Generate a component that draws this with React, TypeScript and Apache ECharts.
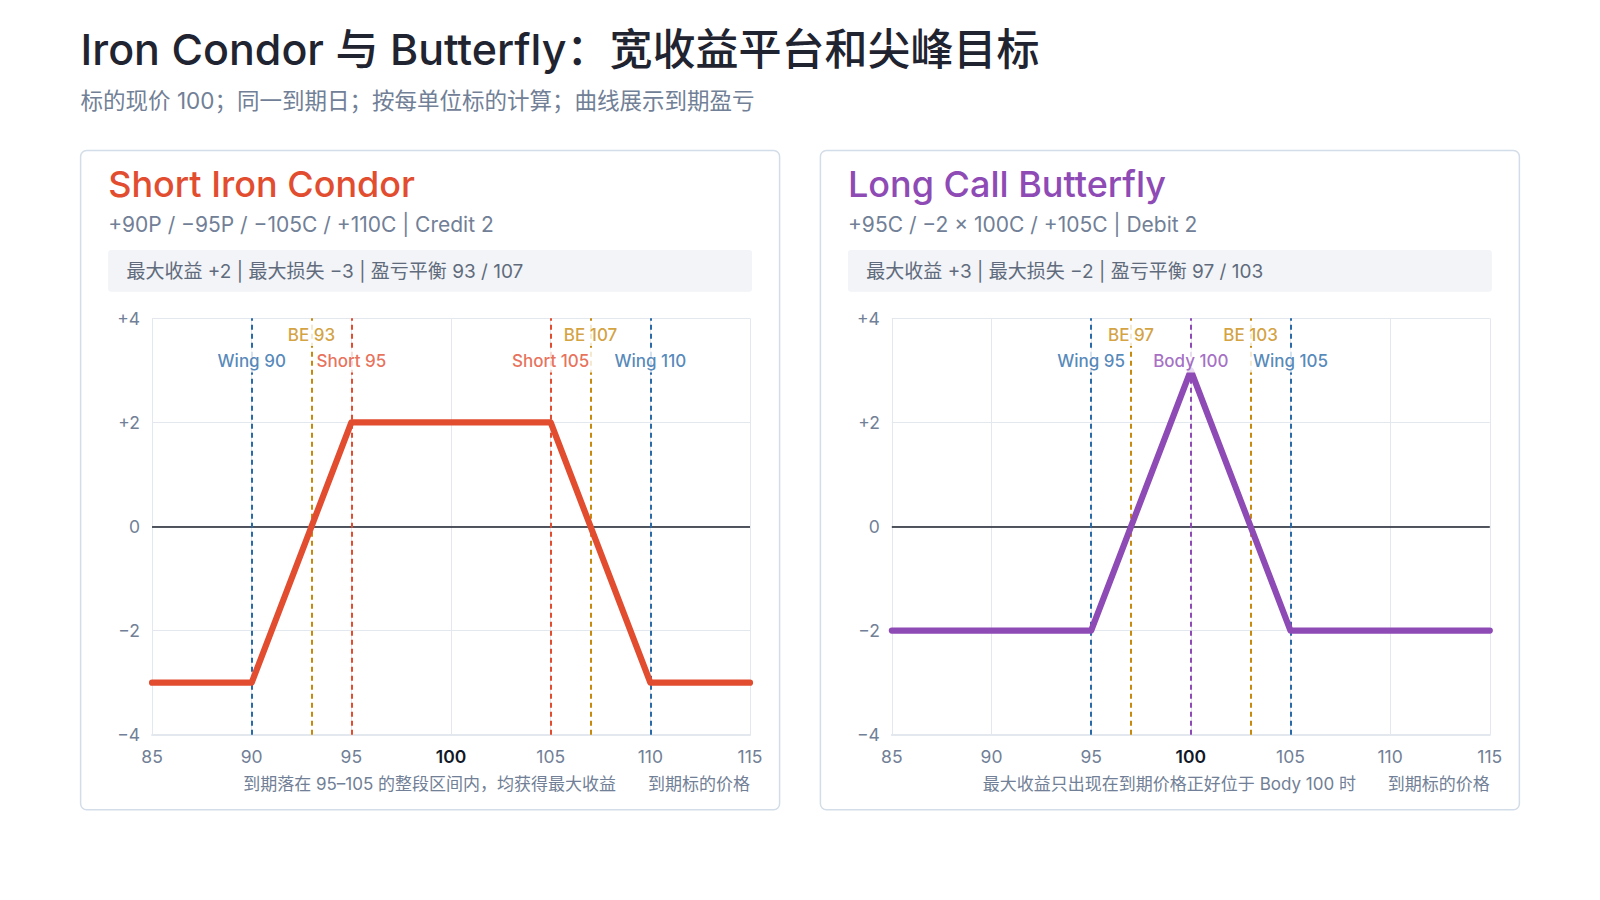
import React, { useEffect, useRef } from "react";
import * as echarts from "echarts";

const FONT = 'Inter, "Noto Sans CJK SC", "Noto Sans", sans-serif';

const pageTitle = "Iron Condor 与 Butterfly：宽收益平台和尖峰目标";
const pageSubtitle = "标的现价 100；同一到期日；按每单位标的计算；曲线展示到期盈亏";

const xTicks = { min: 85, max: 115, step: 5 };
const yTicks = { min: -4, max: 4, step: 2 };
const axisName = "到期标的价格";

const condorTitle = "Short Iron Condor";
const condorLegs = "+90P / −95P / −105C / +110C | Credit 2";
const condorStats = "最大收益 +2 | 最大损失 −3 | 盈亏平衡 93 / 107";
const condorNote = "到期落在 95–105 的整段区间内，均获得最大收益";
const condorPrices = [85, 90, 95, 105, 110, 115];
const condorPnL = [-3, -3, 2, 2, -3, -3];
const condorMarks = [
  { name: "Wing 90", x: 90, kind: "wing" },
  { name: "BE 93", x: 93, kind: "be" },
  { name: "Short 95", x: 95, kind: "short" },
  { name: "Short 105", x: 105, kind: "short" },
  { name: "BE 107", x: 107, kind: "be" },
  { name: "Wing 110", x: 110, kind: "wing" },
];

const flyTitle = "Long Call Butterfly";
const flyLegs = "+95C / −2 × 100C / +105C | Debit 2";
const flyStats = "最大收益 +3 | 最大损失 −2 | 盈亏平衡 97 / 103";
const flyNote = "最大收益只出现在到期价格正好位于 Body 100 时";
const flyPrices = [85, 95, 100, 105, 115];
const flyPnL = [-2, -2, 3, -2, -2];
const flyMarks = [
  { name: "Wing 95", x: 95, kind: "wing" },
  { name: "BE 97", x: 97, kind: "be" },
  { name: "Body 100", x: 100, kind: "body" },
  { name: "BE 103", x: 103, kind: "be" },
  { name: "Wing 105", x: 105, kind: "wing" },
];

// label rows (in P&L units) for marker labels
const labelRow: Record<string, number> = { wing: 3.18, short: 3.18, body: 3.18, be: 3.69 };

const RED = "#e24d30";
const PURPLE = "#8e4ab5";
const BLUE = "#2a6aa8";
const GOLD = "#c88a0e";
const GRAY = "#718096";

const S = 1600 / 1568;
const s = (v: number) => v * S;

const kindColor = (kind: string, accent: string) =>
  kind === "wing" ? BLUE : kind === "be" ? GOLD : accent;

function buildPanel(
  idx: number,
  cardLeft: number,
  accent: string,
  prices: number[],
  pnl: number[],
  marks: { name: string; x: number; kind: string }[]
) {
  const grid = { left: cardLeft + s(70), top: s(312), width: s(586), height: s(408) };
  const xAxis = {
    type: "value",
    gridIndex: idx,
    min: xTicks.min,
    max: xTicks.max,
    interval: xTicks.step,
    axisLine: { show: true, onZero: false, lineStyle: { color: "#e3e8ef", width: 2 } },
    axisTick: { show: false },
    splitLine: { show: true, lineStyle: { color: "#e3e8ef", width: 1 } },
    axisLabel: {
      margin: 13,
      fontFamily: FONT,
      fontSize: 17.5,
      color: GRAY,
      formatter: (v: number) => (v === 100 ? "{b|100}" : "{n|" + v + "}"),
      rich: {
        b: { fontFamily: FONT, fontSize: 17.5, color: "#111827", fontWeight: 600 },
        n: { fontFamily: FONT, fontSize: 17.5, color: GRAY },
      },
    },
  };
  const yAxis = {
    type: "value",
    gridIndex: idx,
    min: yTicks.min,
    max: yTicks.max,
    interval: yTicks.step,
    axisLine: { show: false },
    axisTick: { show: false },
    splitLine: { show: true, lineStyle: { color: "#e3e8ef", width: 1 } },
    axisLabel: {
      margin: 12,
      fontFamily: FONT,
      fontSize: 17.5,
      color: GRAY,
      formatter: (v: number) => (v > 0 ? "+" + v : v < 0 ? "−" + Math.abs(v) : "0"),
    },
  };
  const series: any[] = [
    {
      type: "line",
      xAxisIndex: idx,
      yAxisIndex: idx,
      z: 1,
      data: [],
      markLine: {
        silent: true,
        symbol: ["none", "none"],
        label: { show: false },
        data: [
          { yAxis: 0, lineStyle: { color: "#1a1f2b", width: 1.6, type: "solid" } },
          ...marks.map((m) => ({
            xAxis: m.x,
            lineStyle: { color: kindColor(m.kind, accent), width: 2, type: [5, 4] },
          })),
        ],
      },
    },
    {
      type: "line",
      xAxisIndex: idx,
      yAxisIndex: idx,
      z: 5,
      showSymbol: false,
      symbol: "none",
      lineStyle: { color: accent, width: 6.2, cap: "round", join: "round" },
      data: prices.map((p, i) => [p, pnl[i]]),
    },
    {
      type: "scatter",
      xAxisIndex: idx,
      yAxisIndex: idx,
      z: 10,
      symbolSize: 0,
      data: marks.map((m) => ({
        value: [m.x, labelRow[m.kind]],
        label: {
          show: true,
          position: "inside",
          formatter: m.name,
          fontFamily: FONT,
          fontSize: 17,
          fontWeight: 500,
          color: kindColor(m.kind, accent),
          backgroundColor: "#ffffff",
          padding: [3, 3],
        },
      })),
    },
  ];
  return { grid, xAxis, yAxis, series };
}

function cardGraphics(left: number, accent: string, title: string, legs: string, stats: string, note: string) {
  return [
    {
      type: "rect",
      shape: { x: left, y: s(147.5), width: s(685), height: s(646), r: 6 },
      style: { fill: "#ffffff", stroke: "#d3dde9", lineWidth: 1.5 },
      z: -10,
      silent: true,
    },
    {
      type: "text",
      x: left + s(27),
      y: s(180),
      style: { text: title, font: `500 36px ${FONT}`, fill: accent, textVerticalAlign: "middle" },
    },
    {
      type: "text",
      x: left + s(27),
      y: s(220),
      style: { text: legs, font: `400 21px ${FONT}`, fill: GRAY, textVerticalAlign: "middle" },
    },
    {
      type: "rect",
      shape: { x: left + s(27), y: s(245), width: s(631), height: s(41), r: 3 },
      style: { fill: "#f2f4f7" },
      z: -5,
      silent: true,
    },
    {
      type: "text",
      x: left + s(45),
      y: s(266),
      style: { text: stats, font: `400 19px ${FONT}`, fill: "#5f6b7c", textVerticalAlign: "middle" },
    },
    {
      type: "text",
      x: left + s(342),
      y: s(768),
      style: { text: note, font: `400 17px ${FONT}`, fill: GRAY, textAlign: "center", textVerticalAlign: "middle" },
    },
    {
      type: "text",
      x: left + s(656),
      y: s(768),
      style: { text: axisName, font: `400 17px ${FONT}`, fill: GRAY, textAlign: "right", textVerticalAlign: "middle" },
    },
  ];
}

export default function App() {
  const ref = useRef<HTMLDivElement>(null);
  useEffect(() => {
    document.body.style.margin = "0";
    document.body.style.overflow = "hidden";
    if (!ref.current) return;
    const chart = echarts.init(ref.current, undefined, { renderer: "svg" });
    const leftA = s(79);
    const leftB = s(804);
    const a = buildPanel(0, leftA, RED, condorPrices, condorPnL, condorMarks);
    const b = buildPanel(1, leftB, PURPLE, flyPrices, flyPnL, flyMarks);
    chart.setOption({
      animation: false,
      backgroundColor: "#ffffff",
      grid: [a.grid, b.grid],
      xAxis: [a.xAxis, b.xAxis],
      yAxis: [a.yAxis, b.yAxis],
      series: [...a.series, ...b.series],
      graphic: [
        {
          type: "text",
          x: s(79),
          y: s(48),
          style: { text: pageTitle, font: `500 43px ${FONT}`, fill: "#1f2430", textVerticalAlign: "middle" },
        },
        {
          type: "text",
          x: s(79),
          y: s(98),
          style: { text: pageSubtitle, font: `400 22.5px ${FONT}`, fill: GRAY, textVerticalAlign: "middle" },
        },
        ...cardGraphics(leftA, RED, condorTitle, condorLegs, condorStats, condorNote),
        ...cardGraphics(leftB, PURPLE, flyTitle, flyLegs, flyStats, flyNote),
      ],
    });
    return () => chart.dispose();
  }, []);
  return (
    <div style={{ position: "absolute", left: 0, top: 0, width: 1600, height: 900, overflow: "hidden", background: "#fff" }}>
      <div ref={ref} style={{ width: 1600, height: 900 }} />
    </div>
  );
}
